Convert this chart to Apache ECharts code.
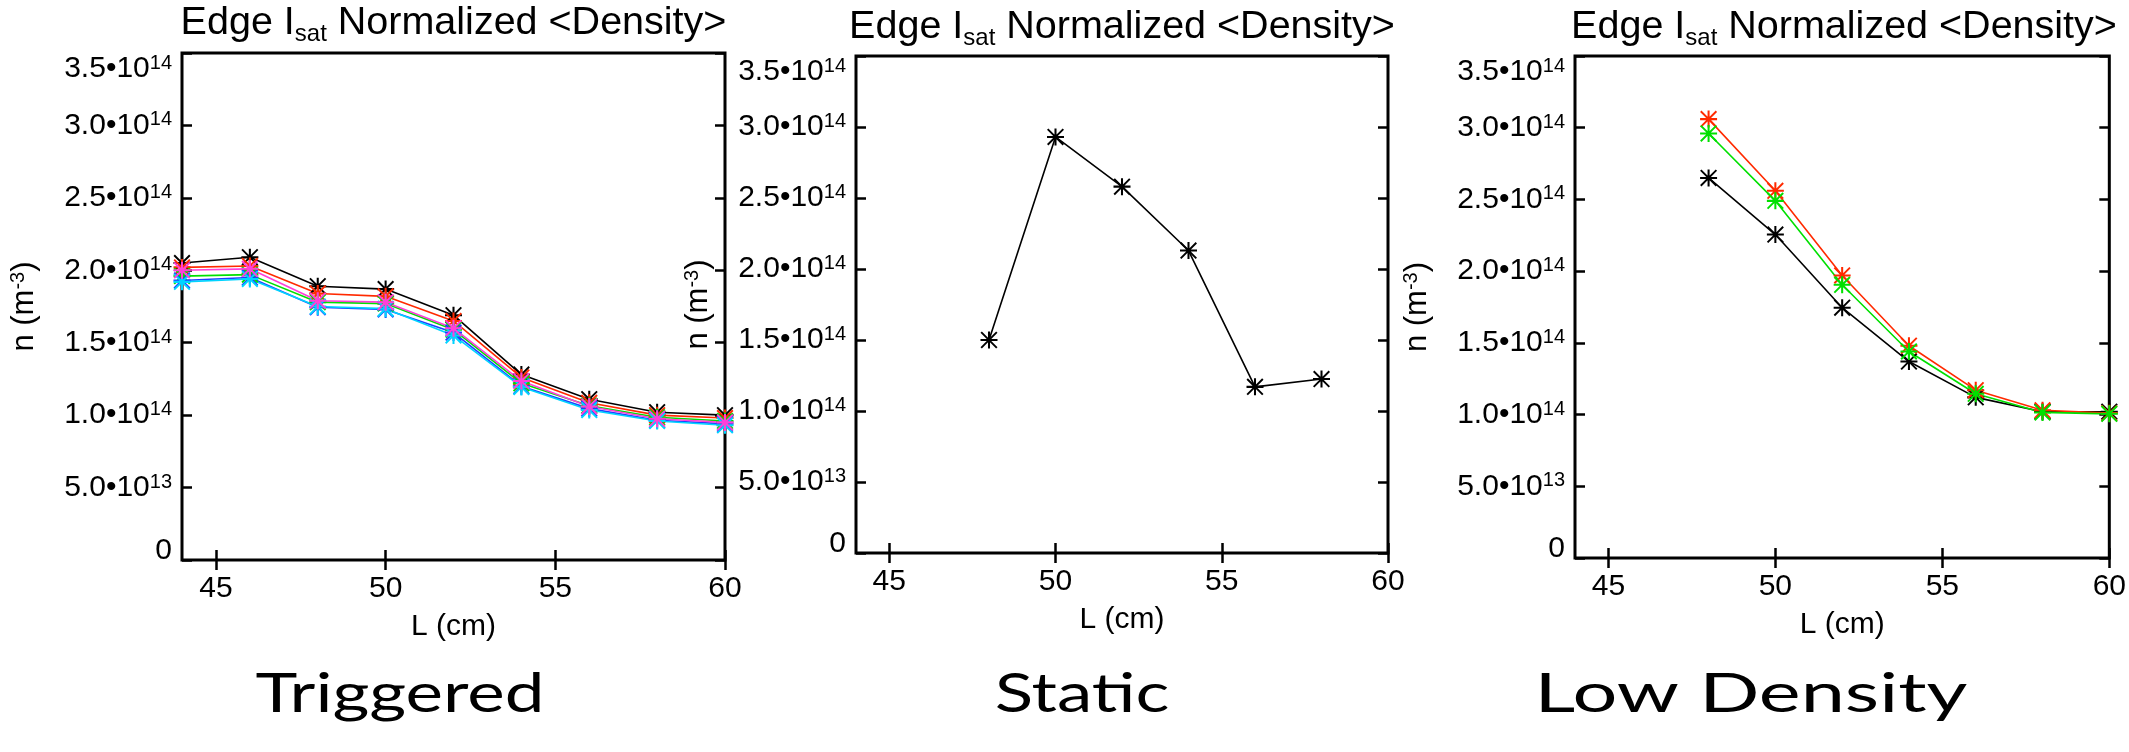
<!DOCTYPE html>
<html>
<head>
<meta charset="utf-8">
<script src="https://cdn.jsdelivr.net/npm/echarts@6/dist/echarts.min.js"></script>
<style>
html,body{margin:0;padding:0;background:#fff;}
#chart{width:2129px;height:752px;}
</style>
</head>
<body>
<div id="chart"></div>
<script>
// ---------------- data (density in units of 1e14 m^-3) ----------------
const xTriggered = [44, 46, 48, 50, 52, 54, 56, 58, 60];
const trigBlack   = [2.05, 2.09, 1.89, 1.87, 1.69, 1.28, 1.11, 1.02, 1.00];
const trigRed     = [2.02, 2.03, 1.84, 1.82, 1.65, 1.26, 1.085, 1.00, 0.98];
const trigGreen   = [1.96, 1.97, 1.78, 1.77, 1.59, 1.22, 1.065, 0.985, 0.96];
const trigBlue    = [1.93, 1.95, 1.745, 1.73, 1.57, 1.20, 1.045, 0.965, 0.94];
const trigCyan    = [1.92, 1.94, 1.75, 1.735, 1.55, 1.195, 1.035, 0.96, 0.93];
const trigMagenta = [2.00, 2.01, 1.79, 1.78, 1.60, 1.235, 1.06, 0.975, 0.95];

const xStatic = [48, 50, 52, 54, 56, 58];
const staticBlack = [1.50, 2.93, 2.58, 2.13, 1.17, 1.225];

const xLow = [48, 50, 52, 54, 56, 58, 60];
const lowBlack = [2.65, 2.255, 1.745, 1.37, 1.12, 1.02, 1.02];
const lowRed   = [3.06, 2.56, 1.97, 1.48, 1.17, 1.03, 1.01];
const lowGreen = [2.96, 2.49, 1.905, 1.44, 1.145, 1.015, 1.005];

const xTickValues = [45, 50, 55, 60];
const panelTitles = ['Triggered', 'Static', 'Low Density'];
const plotTitle = ['Edge I', 'sat', ' Normalized <Density>'];
const xAxisTitle = 'L (cm)';
const yAxisTitle = ['n (m', '-3', ')'];

// ---------------- styling ----------------
const FONT = "'Liberation Sans', Helvetica, Arial, sans-serif";
const BIG_FONT = "'Gill Sans', 'Gill Sans MT', Lato, sans-serif";
const COLORS = {black:'#000000', red:'#ff2a00', green:'#00e000', blue:'#1e3cff', cyan:'#00d4ff', magenta:'#ff40d8'};
const STAR = 'path://M44,0L56,0L56,100L44,100Z M0,44L100,44L100,56L0,56Z M8,0L100,92L92,100L0,8Z M92,0L100,8L8,100L0,92Z';

const grids = [
  {left:182, top:53, width:543, height:507},
  {left:856, top:56, width:532, height:497},
  {left:1575, top:56, width:538, height:502}
];

function yFmt(v){
  if (Math.abs(v) < 1e-9) return '{z|0}';
  const e = v < 1 ? 13 : 14;
  const m = v < 1 ? v * 10 : v;
  return '{b|' + m.toFixed(1) + '\u202210}{p|' + e + '}';
}

const xAxes = [], yAxes = [], series = [], graphics = [];
grids.forEach((g, i) => {
  g.show = true; g.borderColor = '#000'; g.borderWidth = 3; g.backgroundColor = 'transparent';
  const tick = {show:true, inside:true, length:10, lineStyle:{color:'#000', width:2.5}};
  xAxes.push({
    gridIndex:i, type:'value', min:44, max:60, position:'bottom',
    axisLine:{show:false}, splitLine:{show:false},
    axisTick:Object.assign({customValues:xTickValues}, tick),
    axisLabel:{customValues:xTickValues, color:'#000', fontSize:30, fontFamily:FONT, margin:14},
    name:xAxisTitle, nameLocation:'middle', nameGap:52,
    nameTextStyle:{color:'#000', fontSize:30, fontFamily:FONT}
  });
  xAxes.push({
    gridIndex:i, type:'value', min:44, max:60, position:'top',
    axisLine:{show:false}, splitLine:{show:false},
    axisTick:Object.assign({customValues:xTickValues}, tick),
    axisLabel:{show:false}
  });
  yAxes.push({
    gridIndex:i, type:'value', min:0, max:3.5, interval:0.5, position:'left',
    axisLine:{show:false}, splitLine:{show:false}, axisTick:tick,
    axisLabel:{
      color:'#000', fontFamily:FONT, margin:10, formatter:yFmt,
      verticalAlignMaxLabel:'top',
      rich:{
        b:{fontSize:30, fontFamily:FONT, color:'#000', lineHeight:31},
        z:{fontSize:30, fontFamily:FONT, color:'#000', lineHeight:31, padding:[0,0,18,0]},
        p:{fontSize:20, fontFamily:FONT, color:'#000', lineHeight:14, verticalAlign:'top'}
      }
    },
    name:'{n|' + yAxisTitle[0] + '}{q|' + yAxisTitle[1] + '}{n|' + yAxisTitle[2] + '}',
    nameLocation:'middle', nameGap:142,
    nameTextStyle:{
      rich:{
        n:{fontSize:31, fontFamily:FONT, color:'#000', lineHeight:32},
        q:{fontSize:20, fontFamily:FONT, color:'#000', lineHeight:14, verticalAlign:'top'}
      }
    }
  });
  yAxes.push({
    gridIndex:i, type:'value', min:0, max:3.5, interval:0.5, position:'right',
    axisLine:{show:false}, splitLine:{show:false}, axisTick:tick,
    axisLabel:{show:false}
  });
  // plot title
  graphics.push({
    type:'text', z:100,
    style:{
      x:g.left + g.width / 2, y:i === 0 ? 0 : 4, align:'center', verticalAlign:'top',
      text:'{a|' + plotTitle[0] + '}{s|' + plotTitle[1] + '}{a|' + plotTitle[2] + '}',
      rich:{
        a:{fontSize:39.5, fontFamily:FONT, fill:'#000', lineHeight:46},
        s:{fontSize:24, fontFamily:FONT, fill:'#000', lineHeight:16, verticalAlign:'bottom'}
      }
    }
  });
});

const bigLabelX = [400, 1082, 1751];
const bigLabelScale = [1.29, 1.29, 1.44];
panelTitles.forEach((t, i) => {
  graphics.push({
    type:'text', z:100, x:bigLabelX[i], y:694, scaleX:bigLabelScale[i], scaleY:1,
    style:{x:0, y:0, text:t, align:'center', verticalAlign:'middle',
      fontSize:55, fontFamily:BIG_FONT, fill:'#000'}
  });
});

function addSeries(panel, xs, ys, color){
  series.push({
    type:'line', xAxisIndex:panel * 2, yAxisIndex:panel * 2,
    data:xs.map((x, k) => [x, ys[k]]),
    symbol:STAR, symbolSize:17, showAllSymbol:true,
    lineStyle:{color:color, width:1.6}, itemStyle:{color:color},
    clip:false, animation:false, silent:true
  });
}
addSeries(0, xTriggered, trigBlack, COLORS.black);
addSeries(0, xTriggered, trigRed, COLORS.red);
addSeries(0, xTriggered, trigGreen, COLORS.green);
addSeries(0, xTriggered, trigBlue, COLORS.blue);
addSeries(0, xTriggered, trigCyan, COLORS.cyan);
addSeries(0, xTriggered, trigMagenta, COLORS.magenta);
addSeries(1, xStatic, staticBlack, COLORS.black);
addSeries(2, xLow, lowBlack, COLORS.black);
addSeries(2, xLow, lowRed, COLORS.red);
addSeries(2, xLow, lowGreen, COLORS.green);

const chart = echarts.init(document.getElementById('chart'), null, {renderer:'canvas'});
chart.setOption({
  animation:false,
  backgroundColor:'#fff',
  grid:grids, xAxis:xAxes, yAxis:yAxes, series:series, graphic:graphics
});
</script>
</body>
</html>
